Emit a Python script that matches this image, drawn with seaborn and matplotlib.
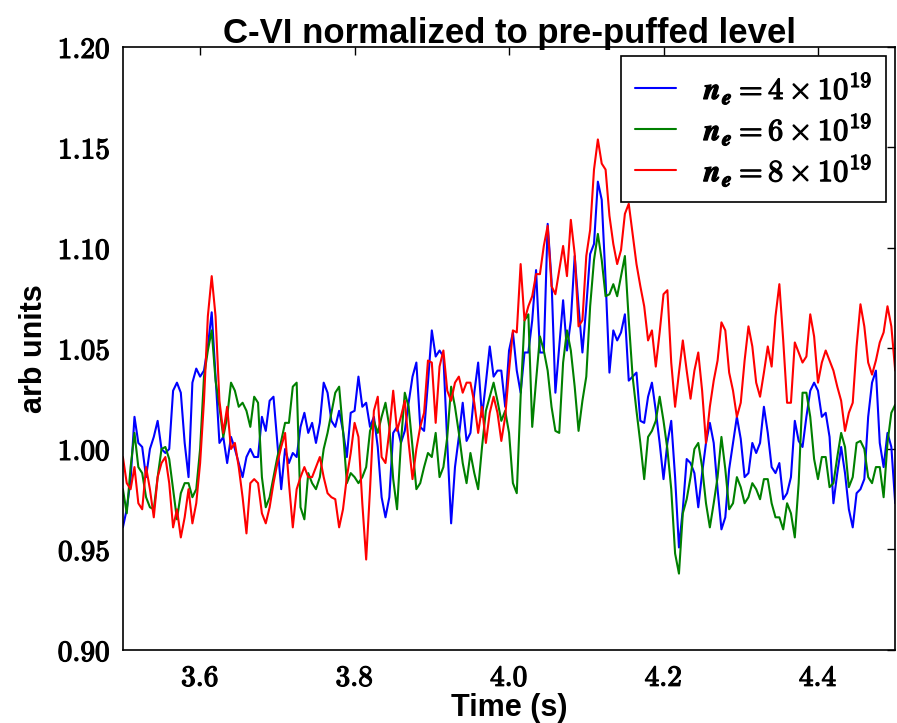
import numpy as np
import pandas as pd
import matplotlib
matplotlib.use("Agg")
import matplotlib.pyplot as plt
import matplotlib.patheffects as pe
import seaborn as sns

# time axis: 3.500 s to 4.500 s, 0.005 s spacing
T_START = 3.5
T_STEP = 0.005

ne4 = [
    0.961, 0.970, 0.985, 1.016, 1.003, 1.001, 0.986, 1.000, 1.006, 1.014,
    1.000, 0.998, 1.000, 1.029, 1.033, 1.028, 1.003, 0.986, 1.033, 1.040,
    1.036, 1.039, 1.051, 1.068, 1.036, 1.003, 1.006, 0.993, 1.006, 1.000,
    0.993, 0.986, 0.996, 1.000, 0.996,
    0.996, 1.016, 1.009, 1.024, 1.026, 1.003, 0.980, 1.000, 0.993, 0.998,
    0.996, 1.011, 1.018, 1.008, 1.013, 1.003, 1.013, 1.033, 1.028, 1.014,
    1.011, 1.019, 1.009, 0.996, 1.018, 1.019, 1.036, 1.021, 1.023, 1.011,
    1.016, 1.001, 0.976,
    0.966, 0.976, 1.008, 1.011, 1.003, 1.009, 1.023, 1.036, 1.043, 1.011,
    1.009, 1.033, 1.059, 1.046, 1.049, 1.046, 1.003, 0.963, 0.991, 1.006,
    1.023, 1.004, 1.008, 1.028, 1.043, 1.016, 1.033, 1.051, 1.036, 1.039,
    1.039, 1.021, 1.049, 1.058,
    1.039, 1.028, 1.048, 1.048, 1.064, 1.089, 1.048, 1.048, 1.112, 1.084,
    1.028, 1.051, 1.074, 1.049, 1.064, 1.096, 1.071, 1.048, 1.071, 1.097,
    1.102, 1.133, 1.124, 1.084, 1.038, 1.059, 1.054, 1.058, 1.067, 1.034,
    1.036, 1.038, 1.014, 1.013,
    1.026, 1.033, 1.019, 1.003, 0.985, 1.003, 1.014, 0.986, 0.951, 0.970,
    0.995, 0.993, 0.988, 0.971, 0.988, 1.003, 1.013, 1.003, 0.980, 0.960,
    0.966, 0.990, 1.003, 1.016, 1.005, 0.986, 0.988, 1.003, 0.998, 1.003,
    1.021, 1.008, 0.991,
    0.988, 0.993, 0.975, 0.978, 0.986, 1.014, 1.004, 1.001, 1.016, 1.029,
    1.033, 1.029, 1.016, 1.018, 1.006, 0.973, 0.988, 1.001, 0.988, 0.970,
    0.961, 0.978, 0.980, 0.985, 1.016, 1.033, 1.039, 1.003, 0.991, 1.008,
    1.001, 0.973,
]

ne6 = [
    0.980, 0.968, 0.991, 1.008, 0.991, 0.988, 0.976, 0.971, 0.970, 0.986,
    1.000, 1.001, 0.995, 0.980, 0.965, 0.978, 0.983, 0.983, 0.976, 0.980,
    1.000, 1.036, 1.049, 1.059, 1.034, 1.021, 1.006, 1.016, 1.033, 1.029,
    1.021, 1.023, 1.019, 1.011, 1.026,
    1.023, 0.986, 0.971, 0.976, 0.986, 0.996, 1.004, 1.013, 1.013, 1.031,
    1.033, 0.971, 0.965, 0.988, 0.983, 0.980, 0.986, 1.000, 1.008, 1.018,
    1.028, 1.031, 1.009, 0.983, 0.988, 0.986, 0.983, 0.986, 0.991, 1.009,
    1.014, 1.008, 1.016,
    1.023, 1.011, 0.985, 0.970, 1.003, 1.028, 1.021, 1.001, 0.980, 0.983,
    0.991, 0.998, 0.996, 1.008, 0.986, 0.991, 1.006, 1.031, 1.021, 1.008,
    0.993, 0.983, 0.998, 0.988, 0.980, 1.001, 1.019, 1.026, 1.033, 1.024,
    1.014, 1.019, 1.008, 0.983,
    0.978, 1.026, 1.064, 1.067, 1.011, 1.034, 1.056, 1.049, 1.039, 1.021,
    1.009, 1.008, 1.043, 1.059, 1.049, 1.031, 1.009, 1.024, 1.036, 1.071,
    1.094, 1.107, 1.094, 1.076, 1.077, 1.082, 1.076, 1.086, 1.096, 1.064,
    1.036, 1.019, 1.003, 0.985,
    1.006, 1.009, 1.014, 1.026, 1.014, 1.000, 0.980, 0.948, 0.938, 0.968,
    0.975, 0.986, 1.000, 1.003, 0.991, 0.973, 0.961, 0.973, 0.986, 1.006,
    0.990, 0.970, 0.973, 0.986, 0.981, 0.973, 0.976, 0.983, 0.980, 0.975,
    0.985, 0.985, 0.973,
    0.966, 0.966, 0.960, 0.973, 0.968, 0.956, 0.983, 1.028, 1.028, 1.016,
    0.995, 0.985, 0.996, 0.996, 0.981, 0.983, 0.996, 1.008, 1.001, 0.981,
    0.986, 1.003, 1.004, 1.000, 0.986, 0.983, 0.991, 0.991, 0.976, 1.003,
    1.018, 1.022,
]

ne8 = [
    0.996, 0.983, 0.980, 0.991, 0.973, 0.970, 0.991, 0.980, 0.966, 0.986,
    0.993, 0.996, 0.983, 0.961, 0.970, 0.956, 0.966, 0.980, 0.963, 0.973,
    0.993, 1.024, 1.066, 1.086, 1.066, 1.024, 1.008, 1.021, 1.000, 1.003,
    0.991, 0.976, 0.958, 0.983, 0.985,
    0.983, 0.968, 0.963, 0.971, 0.983, 0.993, 1.001, 1.008, 0.983, 0.961,
    0.980, 0.986, 0.991, 0.986, 0.986, 0.991, 0.996, 0.986, 0.978, 0.976,
    0.975, 0.961, 0.970, 0.986, 0.998, 1.013, 1.006, 0.973, 0.945, 0.980,
    1.019, 1.026, 0.996,
    0.993, 1.009, 1.029, 1.009, 1.016, 1.024, 1.003, 0.985, 1.000, 1.011,
    1.018, 1.044, 1.043, 1.013, 1.041, 1.049, 1.029, 1.024, 1.033, 1.036,
    1.028, 1.033, 1.033, 1.023, 1.008, 1.021, 1.003, 1.018, 1.026, 1.018,
    1.004, 1.016, 1.039, 1.059,
    1.058, 1.092, 1.064, 1.071, 1.076, 1.087, 1.087, 1.101, 1.111, 1.081,
    1.077, 1.089, 1.101, 1.086, 1.114, 1.097, 1.061, 1.064, 1.096, 1.109,
    1.139, 1.154, 1.142, 1.139, 1.116, 1.102, 1.092, 1.099, 1.117, 1.122,
    1.107, 1.092, 1.081, 1.071,
    1.054, 1.059, 1.041, 1.058, 1.077, 1.079, 1.043, 1.021, 1.038, 1.054,
    1.039, 1.025, 1.039, 1.048, 1.029, 1.003, 1.021, 1.034, 1.044, 1.063,
    1.059, 1.038, 1.029, 1.016, 1.023, 1.044, 1.061, 1.051, 1.033, 1.026,
    1.038, 1.051, 1.041,
    1.066, 1.082, 1.054, 1.023, 1.023, 1.053, 1.048, 1.043, 1.046, 1.067,
    1.056, 1.033, 1.043, 1.049, 1.044, 1.039, 1.031, 1.024, 1.009, 1.018,
    1.023, 1.051, 1.072, 1.061, 1.043, 1.037, 1.044, 1.053, 1.058, 1.071,
    1.061, 1.039,
]

series_labels = [
    r"$\mathbfit{n}_{\mathbfit{e}} = \mathbf{4} \times \mathbf{10^{19}}\;$",
    r"$\mathbfit{n}_{\mathbfit{e}} = \mathbf{6} \times \mathbf{10^{19}}\;$",
    r"$\mathbfit{n}_{\mathbfit{e}} = \mathbf{8} \times \mathbf{10^{19}}\;$",
]
series_colors = ["#0000ff", "#008000", "#ff0000"]

xticks = [3.6, 3.8, 4.0, 4.2, 4.4]
yticks = [0.90, 0.95, 1.00, 1.05, 1.10, 1.15, 1.20]

frames = []
for lab, vals in zip(series_labels, [ne4, ne6, ne8]):
    t = T_START + T_STEP * np.arange(len(vals))
    frames.append(pd.DataFrame({"time": t, "value": vals, "series": lab}))
df = pd.concat(frames, ignore_index=True)

sns.set_style("white")
plt.rcParams["mathtext.fontset"] = "cm"
plt.rcParams["font.family"] = ["Liberation Sans", "DejaVu Sans"]
plt.rcParams["text.color"] = "black"
plt.rcParams["axes.labelcolor"] = "black"
plt.rcParams["xtick.color"] = "black"
plt.rcParams["ytick.color"] = "black"

fig = plt.figure(figsize=(8.97, 7.23), dpi=100)
ax = fig.add_axes([0.137, 0.101, 0.861, 0.834])

sns.lineplot(data=df, x="time", y="value", hue="series",
             palette=dict(zip(series_labels, series_colors)),
             estimator=None, sort=False, linewidth=1.5, ax=ax, legend=False)

ax.set_xlim(3.5, 4.5)
ax.set_ylim(0.90, 1.20)
ax.set_xticks(xticks)
ax.set_yticks(yticks)
ax.set_xticklabels([r"$\mathbf{%.1f}$" % v for v in xticks])
ax.set_yticklabels([r"$\mathbf{%.2f}$" % v for v in yticks])
ax.tick_params(direction="in", length=6, width=1, top=True, right=True,
               labelsize=21, colors="black")
ax.tick_params(axis="y", pad=9)
ax.tick_params(axis="x", pad=10)
for s in ax.spines.values():
    s.set_visible(True)
    s.set_color("black")
    s.set_linewidth(1.2)

bold_fx = [pe.withStroke(linewidth=0.9, foreground="black")]
for lab in ax.get_xticklabels() + ax.get_yticklabels():
    lab.set_path_effects(bold_fx)

ax.set_title("C-VI normalized to pre-puffed level", fontsize=25,
             fontweight="bold", pad=3, color="black")
ax.set_xlabel("Time (s)", fontsize=22, fontweight="bold", labelpad=1)
ax.set_ylabel("arb units", fontsize=22, fontweight="bold", labelpad=6)

handles = ax.get_lines()[:3]
leg = ax.legend(handles, series_labels, loc="upper right", fontsize=22,
                frameon=True, fancybox=False, handlelength=1.35,
                handletextpad=0.9, borderaxespad=0.3, borderpad=0.45,
                labelspacing=0.15)
leg.get_frame().set_edgecolor("black")
leg.get_frame().set_linewidth(1.2)
leg.get_frame().set_alpha(1)
for txt in leg.get_texts():
    txt.set_path_effects(bold_fx)

fig.savefig("out.png", dpi=100, facecolor="white")
